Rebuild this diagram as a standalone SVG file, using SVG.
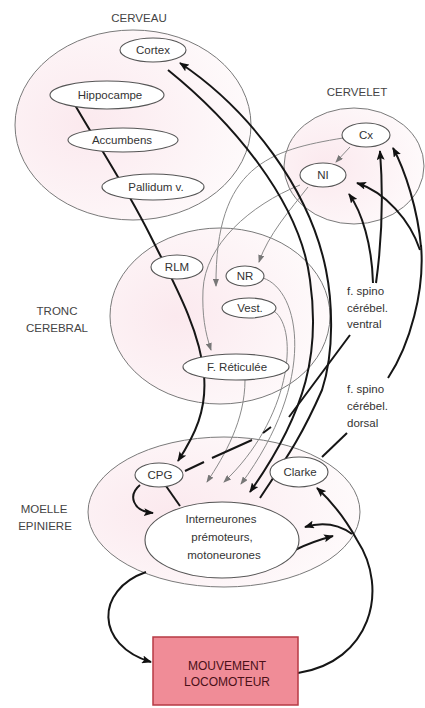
<svg xmlns="http://www.w3.org/2000/svg" width="425" height="708" viewBox="0 0 425 708">
<defs>
<style>
.region{fill:url(#pinkfill);stroke:#7a7a7a;stroke-width:1}
.node{fill:#fff;stroke:#555;stroke-width:1.1}
.t{font-family:"Liberation Sans",Arial,sans-serif;font-size:11.5px;fill:#333;text-anchor:middle}
.lbl{font-family:"Liberation Sans",Arial,sans-serif;font-size:11.5px;fill:#444;text-anchor:middle}
.tl{font-family:"Liberation Sans",Arial,sans-serif;font-size:11.5px;fill:#333;text-anchor:start}
.thick{fill:none;stroke:#161616;stroke-width:2}
.thin{fill:none;stroke:#8a8a8a;stroke-width:1}
.mv{font-family:"Liberation Sans",Arial,sans-serif;font-size:12px;fill:#4a1018;text-anchor:middle}
</style>
<radialGradient id="pinkfill" cx="0.3" cy="0.5" r="0.7">
<stop offset="0" stop-color="#fbe9ee"/>
<stop offset="1" stop-color="#fefafb"/>
</radialGradient>
<marker id="ab" viewBox="0 0 10 8" refX="9" refY="4" markerWidth="10" markerHeight="8" markerUnits="userSpaceOnUse" orient="auto"><path d="M0,0 L10,4 L0,8 L2,4 z" fill="#111"/></marker>
<marker id="ag" viewBox="0 0 8 6" refX="7" refY="3" markerWidth="8" markerHeight="6" markerUnits="userSpaceOnUse" orient="auto"><path d="M0,0 L8,3 L0,6 z" fill="#777"/></marker>
</defs>
<rect width="425" height="708" fill="#fff"/>

<g id="regions">
<g id="cerveau"><ellipse class="region" cx="133" cy="125" rx="118" ry="95"/><text class="lbl" x="139" y="22">CERVEAU</text></g>
<g id="cervelet"><ellipse class="region" cx="354" cy="166" rx="70" ry="58"/><text class="lbl" x="357" y="96">CERVELET</text></g>
<g id="tronc"><ellipse class="region" cx="220" cy="316" rx="110" ry="88"/><text class="lbl" x="57" y="315">TRONC</text><text class="lbl" x="57" y="332">CEREBRAL</text></g>
<g id="moelle"><ellipse class="region" cx="224" cy="512" rx="136" ry="75"/><text class="lbl" x="44" y="513">MOELLE</text><text class="lbl" x="45" y="530">EPINIERE</text></g>
</g>

<g id="connectors">
<path class="thin" d="M350,147 L336,162" marker-end="url(#ag)"/>
<path class="thin" d="M308,187 C290,210 268,235 259,262" marker-end="url(#ag)"/>
<path class="thin" d="M343,138 C270,150 215,165 216,286" marker-end="url(#ag)"/>
<path class="thin" d="M300,185 C250,205 205,245 203,290 C202,315 205,332 211,350" marker-end="url(#ag)"/>
<path class="thin" d="M263,278 C300,290 318,380 241,484" marker-end="url(#ag)"/>
<path class="thin" d="M274,311 C300,330 290,420 224,482" marker-end="url(#ag)"/>
<path class="thin" d="M245,380 C245,420 225,455 207,482" marker-end="url(#ag)"/>
<path class="thick" d="M75,105 C95,140 125,185 150,235 C175,285 200,330 204,375 C207,410 195,435 178,461" marker-end="url(#ab)"/>
<path class="thick" d="M168,70 C230,120 300,200 310,280 C320,350 308,410 250,492" marker-end="url(#ab)"/>
<path class="thick" d="M260,498 C285,460 300,440 322,390 C335,350 332,300 326,270 C310,190 250,110 180,63" marker-end="url(#ab)"/>
<path class="thick" d="M140,485 C128,495 132,511 153,513" marker-end="url(#ab)"/>
<path class="thick" d="M166,486 L180,506"/>
<path class="thick" d="M185,471 L204,462 M212,458 L252,440 M263,433 L271,427 M289,417 L350,335"/>
<path class="thick" d="M373,283 C372,245 362,212 349,194" marker-end="url(#ab)"/>
<path class="thick" d="M376,283 C382,240 383,190 380,151" marker-end="url(#ab)"/>
<path class="thick" d="M322,457 L347,433"/>
<path class="thick" d="M388,378 C410,345 425,290 421,245"/>
<path class="thick" d="M421,247 C418,210 405,170 393,148" marker-end="url(#ab)"/>
<path class="thick" d="M420,250 C410,220 385,192 357,183" marker-end="url(#ab)"/>
<path class="thick" d="M146,572 C95,590 95,645 151,662" marker-end="url(#ab)"/>
<path class="thick" d="M298,673 C370,662 390,590 357,540 C345,518 330,500 317,488" marker-end="url(#ab)"/>
<path class="thick" d="M352,534 C338,524 322,522 305,527" marker-end="url(#ab)"/>
<path class="thick" d="M295,550 C305,545 318,540 333,536" marker-end="url(#ab)"/>
</g>

<g id="labels">
<text class="tl" x="347" y="295">f. spino</text>
<text class="tl" x="347" y="312">cérébel.</text>
<text class="tl" x="347" y="328">ventral</text>
<text class="tl" x="347" y="393">f. spino</text>
<text class="tl" x="347" y="410">cérébel.</text>
<text class="tl" x="347" y="427">dorsal</text>
</g>

<g id="cortex"><ellipse class="node" cx="153" cy="50" rx="33" ry="12"/><text class="t" x="153" y="54">Cortex</text></g>
<g id="hippocampe"><ellipse class="node" cx="107" cy="95" rx="57" ry="14"/><text class="t" x="110" y="99">Hippocampe</text></g>
<g id="accumbens"><ellipse class="node" cx="123" cy="140" rx="55" ry="12"/><text class="t" x="122" y="144">Accumbens</text></g>
<g id="pallidum"><ellipse class="node" cx="153" cy="187" rx="51" ry="13"/><text class="t" x="156" y="191">Pallidum v.</text></g>
<g id="cx"><ellipse class="node" cx="366" cy="135" rx="24" ry="12"/><text class="t" x="366" y="139">Cx</text></g>
<g id="ni"><ellipse class="node" cx="323" cy="175" rx="23" ry="12"/><text class="t" x="323" y="179">NI</text></g>
<g id="rlm"><ellipse class="node" cx="177" cy="267" rx="26" ry="12"/><text class="t" x="177" y="271">RLM</text></g>
<g id="nr"><ellipse class="node" cx="245" cy="276" rx="19" ry="10"/><text class="t" x="245" y="280">NR</text></g>
<g id="vest"><ellipse class="node" cx="249" cy="308" rx="27" ry="10"/><text class="t" x="250" y="312">Vest.</text></g>
<g id="freticulee"><ellipse class="node" cx="236" cy="367" rx="53" ry="13"/><text class="t" x="237" y="371">F. Réticulée</text></g>
<g id="cpg"><ellipse class="node" cx="159" cy="475" rx="24" ry="12"/><text class="t" x="160" y="479">CPG</text></g>
<g id="clarke"><ellipse class="node" cx="299" cy="472" rx="29" ry="15"/><text class="t" x="300" y="476">Clarke</text></g>
<g id="interneurones"><ellipse class="node" cx="222" cy="540" rx="77" ry="38"/><text class="t" x="221" y="523">Interneurones</text><text class="t" x="222" y="541">prémoteurs,</text><text class="t" x="224" y="559">motoneurones</text></g>
<g id="mouvement"><rect x="153" y="637" width="145" height="68" fill="#f08c97" stroke="#b73a44" stroke-width="1.5"/><text class="mv" x="227" y="670">MOUVEMENT</text><text class="mv" x="227" y="686">LOCOMOTEUR</text></g>
</svg>
